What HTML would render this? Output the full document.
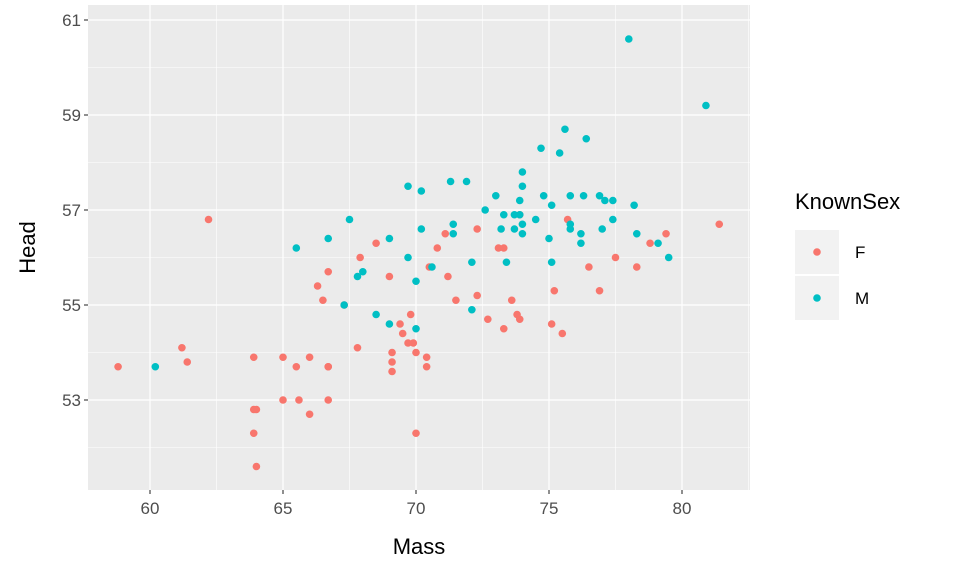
<!DOCTYPE html>
<html><head><meta charset="utf-8"><style>body{margin:0;background:#fff}svg{display:block;font-family:"Liberation Sans",Arial,sans-serif}</style></head>
<body>
<svg id="chart" width="960" height="576" viewBox="0 0 960 576"></svg>
<script>
// pixel-derived estimates converted into data values
const femaleMass=[58.8,61.2,61.4,62.2,63.9,65.0,65.5,63.9,64.0,63.9,64.0,65.0,65.6,66.0,66.7,66.7,66.0,66.7,66.3,66.7,66.5,67.3,68.5,67.9,67.8,69.0,69.1,69.1,69.4,69.1,69.5,69.7,69.9,69.8,70.0,70.4,70.4,70.0,70.5,70.8,71.1,71.2,71.5,72.3,72.3,72.7,73.1,73.3,73.3,73.6,73.8,73.9,73.9,75.2,75.1,75.5,75.7,76.5,76.9,77.5,78.3,78.8,79.4,81.4];
const femaleHead=[53.7,54.1,53.8,56.8,53.9,53.9,53.7,52.8,52.8,52.3,51.6,53.0,53.0,52.7,53.7,53.0,53.9,53.7,55.4,55.7,55.1,55.0,56.3,56.0,54.1,55.6,54.0,53.6,54.6,53.8,54.4,54.2,54.2,54.8,54.0,53.9,53.7,52.3,55.8,56.2,56.5,55.6,55.1,56.6,55.2,54.7,56.2,56.2,54.5,55.1,54.8,54.7,56.9,55.3,54.6,54.4,56.8,55.8,55.3,56.0,55.8,56.3,56.5,56.7];
const maleMass=[60.2,65.5,66.7,67.5,67.3,67.8,68.0,68.5,69.0,69.0,69.7,69.7,70.0,70.2,70.2,70.6,70.0,71.3,71.4,71.4,71.9,72.1,72.1,72.6,73.0,73.2,73.3,73.4,73.7,73.7,73.9,73.9,74.0,74.0,74.0,74.0,74.5,74.7,74.8,75.0,75.1,75.1,75.4,75.6,75.8,75.8,75.8,76.2,76.3,76.2,76.4,76.9,77.0,77.1,77.4,77.4,78.3,78.2,79.1,79.5,78.0,80.9];
const maleHead=[53.7,56.2,56.4,56.8,55.0,55.6,55.7,54.8,56.4,54.6,56.0,57.5,55.5,56.6,57.4,55.8,54.5,57.6,56.7,56.5,57.6,54.9,55.9,57.0,57.3,56.6,56.9,55.9,56.9,56.6,56.9,57.2,57.8,57.5,56.7,56.5,56.8,58.3,57.3,56.4,57.1,55.9,58.2,58.7,56.6,56.7,57.3,56.3,57.3,56.5,58.5,57.3,56.6,57.2,57.2,56.8,56.5,57.1,56.3,56.0,60.6,59.2];
const xTicks=[60,65,70,75,80];
const yTicks=[53,55,57,59,61];
const legendLabels=["F","M"];

const svg=document.getElementById('chart');
const NS='http://www.w3.org/2000/svg';
const L=88,R=750,T=5,B=490;
const xs=v=>150+(v-60)*26.6;
const ys=v=>210-(v-57)*47.5;
function mk(tag,at,parent){const e=document.createElementNS(NS,tag);for(const k in at)e.setAttribute(k,at[k]);(parent||svg).appendChild(e);return e;}

const panel=mk('rect',{x:L,y:T,width:R-L,height:B-T,fill:'#EBEBEB'});


// minor grid
for(let i=0;i<xTicks.length;i++){const v=xTicks[i]+2.5;const x=xs(v);if(x>L&&x<R){const g=mk('line',{x1:x,x2:x,y1:T,y2:B,stroke:'#fff','stroke-width':0.6});}}
for(let i=0;i<yTicks.length;i++){const v=yTicks[i]-1;const y=ys(v);if(y>T&&y<B){const g=mk('line',{x1:L,x2:R,y1:y,y2:y,stroke:'#fff','stroke-width':0.6});}}
// major grid + ticks + labels
xTicks.forEach(v=>{const x=xs(v);
 const g=mk('line',{x1:x,x2:x,y1:T,y2:B,stroke:'#fff','stroke-width':1.2});
 const t=mk('line',{x1:x,x2:x,y1:B,y2:B+4,stroke:'#333','stroke-width':1.1});
 const l=mk('text',{x:x,y:B+24,'text-anchor':'middle','font-size':17,fill:'#4D4D4D'});l.textContent=v;});
yTicks.forEach(v=>{const y=ys(v);
 const g=mk('line',{x1:L,x2:R,y1:y,y2:y,stroke:'#fff','stroke-width':1.2});
 const t=mk('line',{x1:L-4,x2:L,y1:y,y2:y,stroke:'#333','stroke-width':1.1});
 const l=mk('text',{x:L-7,y:y+6,'text-anchor':'end','font-size':17,fill:'#4D4D4D'});l.textContent=v;});
// points
femaleMass.forEach((m,i)=>{const c=mk('circle',{cx:xs(m),cy:ys(femaleHead[i]),r:3.8,fill:'#F8766D'});});
maleMass.forEach((m,i)=>{const c=mk('circle',{cx:xs(m),cy:ys(maleHead[i]),r:3.8,fill:'#00BFC4'});});
// axis titles
const xt=mk('text',{x:(L+R)/2,y:554,'text-anchor':'middle','font-size':22,fill:'#000'});xt.textContent='Mass';


const yt=mk('text',{x:0,y:0,transform:'translate(35,'+((T+B)/2)+') rotate(-90)','text-anchor':'middle','font-size':22,fill:'#000'});yt.textContent='Head';


// legend
const lt=mk('text',{x:795,y:209,'font-size':22,fill:'#000'});lt.textContent='KnownSex';


const cols=['#F8766D','#00BFC4'];
legendLabels.forEach((s,i)=>{const y=230+i*46;
 const k=mk('rect',{x:795,y:y,width:44,height:44,fill:'#F2F2F2'});
 const c=mk('circle',{cx:817,cy:y+22,r:3.8,fill:cols[i]});
 const t=mk('text',{x:855,y:y+28,'font-size':17,fill:'#000'});t.textContent=s;});
</script>
</body></html>
